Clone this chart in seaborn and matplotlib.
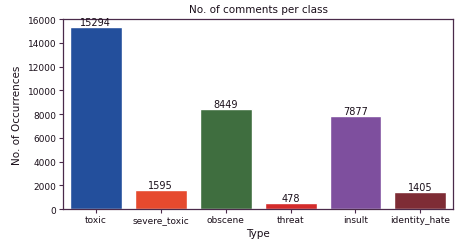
import matplotlib
matplotlib.use("Agg")
import matplotlib.pyplot as plt
import seaborn as sns
import pandas as pd

categories = ["toxic", "severe_toxic", "obscene", "threat", "insult", "identity_hate"]
counts = [15294, 1595, 8449, 478, 7877, 1405]
colors = ["#234f9c", "#e64a2e", "#3f6e3f", "#d42b2b", "#7e4f9e", "#7e2c35"]

df = pd.DataFrame({"Type": categories, "count": counts})

sns.set_style("white")
plt.rcParams["font.family"] = ["DejaVu Sans"]
spine_c = "#4a2a4a"
txt_c = "#1a0f1a"

fig, ax = plt.subplots(figsize=(4.65, 2.51), dpi=100)
sns.barplot(data=df, x="Type", y="count", hue="Type", palette=colors, legend=False,
            ax=ax, width=0.8, saturation=1)
for p, v in zip(ax.patches, counts):
    ax.text(p.get_x() + p.get_width() / 2, v, str(v), ha="center", va="bottom",
            fontsize=7, color=txt_c)
ax.set_ylim(0, 16000)
ax.set_yticks(range(0, 16001, 2000))
ax.set_title("No. of comments per class", fontsize=7.5, pad=5, color=txt_c)
ax.set_ylabel("No. of Occurrences", fontsize=7.5, color=txt_c)
ax.set_xlabel("Type", fontsize=7.5, labelpad=3, color=txt_c)
ax.tick_params(axis="both", labelsize=6.5, length=3, color=spine_c, labelcolor=txt_c)
ax.tick_params(axis="x", bottom=True, pad=1)
ax.tick_params(axis="y", left=True, pad=2)
for s in ax.spines.values():
    s.set_color(spine_c)
    s.set_linewidth(0.9)
fig.subplots_adjust(left=0.136, right=0.974, top=0.92, bottom=0.163)
fig.savefig("out.png", dpi=100)
